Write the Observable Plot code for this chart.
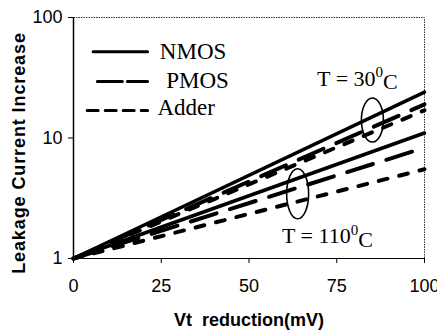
<!DOCTYPE html>
<html><head><meta charset="utf-8">
<script src="https://cdn.jsdelivr.net/npm/d3@7"></script>
<script src="https://cdn.jsdelivr.net/npm/@observablehq/plot@0.6"></script>
<style>body{margin:0;background:#fff}</style>
</head><body><div id="chart"></div>
<script>
// Data (values at Vt reduction = 0 and 100 mV; lines are straight on log scale)
const vtReduction = [0, 100];
const nmos30  = [1, 24];
const pmos30  = [1, 19];
const adder30 = [1, 17];
const nmos110  = [1, 11];
const pmos110  = [1, 8.3];
const adder110 = [1, 5.5];

const xTicks = [0, 25, 50, 75, 100];
const yTicks = [1, 10, 100];

const seriesNames = ["NMOS", "PMOS", "Adder"];
const tempLabels = ["T = 30", "T = 110"];
const xTitle = "Vt  reduction(mV)";
const yTitle = "Leakage Current Increase";

// legend placement (data coordinates)
const legendX0 = [5.6, 6.8, 3.9];
const legendX1 = [21.1, 21.1, 21.1];
const legendY  = [52, 29.4, 16.9];
const legendTextX = [24.6, 26.4, 23.9];
const legendTextY = [52, 30, 17.9];

// annotation placement (data coordinates)
const tempX = [69.4, 59.4];
const tempY = [27.2, 1.34];
const ellipseX = [85.3, 64.0];
const ellipseY = [13.96, 3.41];

function rows(values, key) {
  return vtReduction.map((x, i) => ({x, y: values[i], key}));
}
const solidRows  = [...rows(nmos30, "n30"), ...rows(nmos110, "n110")];
const pmosRows   = [...rows(pmos30, "p30"), ...rows(pmos110, "p110")];
const adderRows  = [...rows(adder30, "a30"), ...rows(adder110, "a110")];

function legendRows(i) {
  return [{x: legendX0[i], y: legendY[i]}, {x: legendX1[i], y: legendY[i]}];
}
const legendText = seriesNames.map((name, i) => ({name, x: legendTextX[i], y: legendTextY[i]}));
const tempText = tempLabels.map((t, i) => ({t, x: tempX[i], y: tempY[i]}));

const serif = "'Liberation Serif', 'Times New Roman', serif";

const plot = Plot.plot({
  width: 437,
  height: 332,
  marginLeft: 73,
  marginRight: 13,
  marginTop: 17,
  marginBottom: 74,
  style: {fontFamily: "'Liberation Sans', Arial, sans-serif", fontSize: "18px", color: "#000", background: "#fff", overflow: "hidden"},
  x: {domain: [0, 100], label: null},
  y: {type: "log", domain: [1, 100], label: null},
  marks: [
    Plot.frame({stroke: "#333", strokeWidth: 1, strokeDasharray: "1.5,1"}),
    Plot.axisX({ticks: xTicks, tickSize: 5, tickPadding: 16, label: null, fontSize: 18}),
    Plot.axisY({ticks: yTicks, tickSize: 5, tickPadding: 6, tickFormat: d => String(d), label: null, fontSize: 18}),
    Plot.ruleX([0], {stroke: "#000", strokeWidth: 1.5}),
    Plot.ruleY([1], {stroke: "#000", strokeWidth: 1.2}),
    Plot.line(adderRows, {x: "x", y: "y", z: "key", stroke: "#000", strokeWidth: 4, strokeDasharray: "9,12"}),
    Plot.line(pmosRows, {x: "x", y: "y", z: "key", stroke: "#000", strokeWidth: 4, strokeDasharray: "27,14"}),
    Plot.line(solidRows, {x: "x", y: "y", z: "key", stroke: "#000", strokeWidth: 3.5}),
    // legend
    Plot.line(legendRows(0), {x: "x", y: "y", stroke: "#000", strokeWidth: 3}),
    Plot.line(legendRows(1), {x: "x", y: "y", stroke: "#000", strokeWidth: 3, strokeDasharray: "25,5"}),
    Plot.line(legendRows(2), {x: "x", y: "y", stroke: "#000", strokeWidth: 3, strokeDasharray: "11,7"}),
    Plot.text(legendText, {x: "x", y: "y", text: "name", textAnchor: "start", lineAnchor: "middle",
      fontFamily: serif, fontSize: 23}),
    Plot.text(tempText, {x: "x", y: "y", text: "t", textAnchor: "start", lineAnchor: "bottom",
      fontFamily: serif, fontSize: 22}),
    // x axis title
    Plot.text([xTitle], {frameAnchor: "bottom", dy: 62, fontWeight: "bold", fontSize: 18, lineAnchor: "middle"})
  ]
});

const svg = d3.select(plot);

// superscript 0 and C for temperature labels
svg.selectAll("text").each(function() {
  const t = this.textContent;
  if (tempLabels.includes(t)) {
    const s = d3.select(this);
    s.append("tspan").attr("font-size", 15).attr("dy", "-0.55em").text("0");
    s.append("tspan").attr("dy", "0.55em").text("C");
  }
});

// y axis title (rotated)
svg.append("text")
  .attr("transform", "translate(19,153) rotate(-90)")
  .attr("text-anchor", "middle")
  .attr("dy", "0.35em")
  .attr("font-weight", "bold")
  .attr("font-size", 18)
  .attr("letter-spacing", "0.9px")
  .text(yTitle);

// ellipses around line groups
const sx = plot.scale("x"), sy = plot.scale("y");
const radii = [[11, 22], [11, 25]];
ellipseX.forEach((x, i) => {
  svg.append("ellipse")
    .attr("cx", sx.apply(x)).attr("cy", sy.apply(ellipseY[i]))
    .attr("rx", radii[i][0]).attr("ry", radii[i][1])
    .attr("fill", "none").attr("stroke", "#000").attr("stroke-width", 1.6);
});

document.getElementById("chart").appendChild(plot);
</script>
</body></html>
